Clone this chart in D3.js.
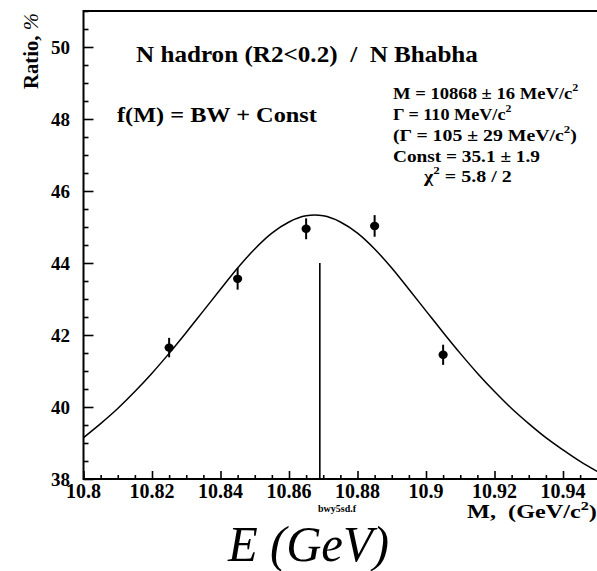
<!DOCTYPE html>
<html>
<head>
<meta charset="utf-8">
<script src="https://cdn.jsdelivr.net/npm/d3@7"></script>
</head>
<body style="margin:0">
<script>
// measured points: mass (GeV) and ratio (%)
var massValues = [10.825, 10.845, 10.865, 10.885, 10.905];
var ratioValues = [41.65, 43.56, 44.95, 45.03, 41.45];
var ratioErrors = [0.27, 0.30, 0.29, 0.30, 0.28];

// fitted curve
var fitMass = [10.800, 10.805, 10.810, 10.815, 10.820, 10.825, 10.830, 10.835, 10.840, 10.845,
               10.850, 10.855, 10.860, 10.865, 10.8675, 10.870, 10.875, 10.880, 10.885, 10.890,
               10.895, 10.900, 10.905, 10.910, 10.915, 10.920, 10.925, 10.930, 10.935, 10.940,
               10.945, 10.950];
var fitRatio = [39.15, 39.54, 39.96, 40.43, 40.94, 41.49, 42.07, 42.67, 43.27, 43.86,
                44.39, 44.83, 45.14, 45.31, 45.33, 45.31, 45.14, 44.83, 44.39, 43.86,
                43.27, 42.67, 42.07, 41.49, 40.94, 40.43, 39.96, 39.54, 39.15, 38.81,
                38.49, 38.21];

// marker line for the fitted mass
var peakMass = [10.869];
var peakTop = [44];

var xTickLabels = ["10.8", "10.82", "10.84", "10.86", "10.88", "10.9", "10.92", "10.94"];
var yTickLabels = ["38", "40", "42", "44", "46", "48", "50"];

var FONT = "Liberation Serif";
var NB = "\u00a0";

var BwChart = (function () {
    var svg, x, y;
    var fits = [];
    var width = 597, height = 571;
    var left = 83.5, right = 597.25, top = 11, bottom = 479;

    return {
        init: init,
        fit: fit
    };

    function init() {
        svg = d3.select("body").append("svg")
            .attr("width", width)
            .attr("height", height)
            .style("display", "block");

        x = d3.scaleLinear().domain([10.8, 10.95]).range([left, right]);
        y = d3.scaleLinear().domain([38, 51]).range([bottom, top]);

        drawAxes();
        drawCurve();
        drawPoints();
        drawTexts();
    }

    //Stretch the texts to the reference widths, after the first paint
    function fit() {
        fits.forEach(function (f) {
            var w = f.t.node().getBBox().width;
            var k = w > 0 ? f.target / w : 1;
            f.t.attr("transform", f.base + " scale(" + k + ",1)");
        });
    }

    function newText(size, italic) {
        var t = svg.append("text")
            .attr("font-family", FONT)
            .attr("font-size", size)
            .attr("font-weight", italic ? "normal" : "bold");
        if (italic) t.attr("font-style", "italic");
        return t;
    }

    function drawAxes() {
        //Minor and major ticks, pointing into the plot
        var yMinor = d3.range(38, 51.01, 0.5);
        var yAxis = d3.axisRight(y)
            .tickValues(yMinor)
            .tickSize(0)
            .tickFormat("");
        var yg = svg.append("g")
            .attr("transform", "translate(" + left + ",0)")
            .call(yAxis);
        yg.select(".domain").remove();
        yg.selectAll(".tick text").remove();
        yg.selectAll(".tick line")
            .attr("x2", function (d) { return Math.abs(d % 2) < 1e-6 ? 10 : 5; })
            .attr("stroke", "#000")
            .attr("stroke-width", 1.6);

        var xMinor = d3.range(0, 31).map(function (i) { return 10.8 + i * 0.005; });
        var xAxis = d3.axisTop(x)
            .tickValues(xMinor)
            .tickSize(0)
            .tickFormat("");
        var xg = svg.append("g")
            .attr("transform", "translate(0," + bottom + ")")
            .call(xAxis);
        xg.select(".domain").remove();
        xg.selectAll(".tick text").remove();
        xg.selectAll(".tick line")
            .attr("y2", function (d, i) { return i % 4 === 0 ? -8 : -4; })
            .attr("stroke", "#000")
            .attr("stroke-width", 1.6);

        //Frame: left, top and bottom
        svg.append("path")
            .attr("d", "M" + width + "," + top + "H" + left + "V" + bottom + "H" + width)
            .attr("fill", "none")
            .attr("stroke", "#000")
            .attr("stroke-width", 2);

        //Tick labels
        yTickLabels.forEach(function (d) {
            newText(19)
                .attr("x", 70)
                .attr("y", y(+d) + 6.5)
                .attr("text-anchor", "end")
                .text(d);
        });

        xTickLabels.forEach(function (d) {
            newText(20)
                .attr("x", x(+d))
                .attr("y", 497.5)
                .attr("text-anchor", "middle")
                .text(d);
        });
    }

    function drawCurve() {
        var line = d3.line()
            .x(function (d, i) { return x(fitMass[i]); })
            .y(function (d) { return y(d); })
            .curve(d3.curveMonotoneX);

        svg.append("path")
            .datum(fitRatio)
            .attr("d", line)
            .attr("fill", "none")
            .attr("stroke", "#000")
            .attr("stroke-width", 1.5);

        svg.selectAll(".peak")
            .data(peakMass)
            .enter().append("line")
            .attr("class", "peak")
            .attr("x1", function (d) { return x(d); })
            .attr("x2", function (d) { return x(d); })
            .attr("y1", function (d, i) { return y(peakTop[i]); })
            .attr("y2", y(38))
            .attr("stroke", "#000")
            .attr("stroke-width", 1.6);
    }

    function drawPoints() {
        var pts = svg.selectAll(".pt")
            .data(ratioValues)
            .enter().append("g")
            .attr("class", "pt");

        pts.append("line")
            .attr("x1", function (d, i) { return x(massValues[i]); })
            .attr("x2", function (d, i) { return x(massValues[i]); })
            .attr("y1", function (d, i) { return y(d + ratioErrors[i]); })
            .attr("y2", function (d, i) { return y(d - ratioErrors[i]); })
            .attr("stroke", "#000")
            .attr("stroke-width", 2);

        pts.append("ellipse")
            .attr("cx", function (d, i) { return x(massValues[i]); })
            .attr("cy", function (d) { return y(d); })
            .attr("rx", 4.6)
            .attr("ry", 4.2)
            .attr("fill", "#000");
    }

    function drawTexts() {
        //Title and fit formula
        place(addText(24, ["N hadron (R2<0.2) " + NB + "/" + NB + " N Bhabha"]), 136, 62, 342);
        place(addText(21, ["f(M) = BW + Const"]), 117, 121.5, 200);

        //Fit results
        place(addText(17, ["M = 10868 \u00b1 16 MeV/c", ["2"]]), 393, 99, 186);
        place(addText(17, ["\u0393 = 110 MeV/c", ["2"]]), 393, 120, 119);
        place(addText(17, ["(\u0393 = 105 \u00b1 29 MeV/c", ["2"], ")"]), 393, 140.5, 184);
        place(addText(17, ["Const = 35.1 \u00b1 1.9"]), 393, 161.5, 147);
        place(addText(17, ["\u03c7", ["2"], " = 5.8 / 2"]), 424, 182, 89);

        //Axis titles
        place(addText(18, ["M, " + NB + "(GeV/c", ["2"], ")"]), 467, 518, 130);

        var yTitle = newText(21);
        yTitle.append("tspan").text("Ratio, ");
        yTitle.append("tspan")
            .attr("font-style", "italic")
            .attr("font-weight", "normal")
            .text("%");
        yTitle.attr("transform", "translate(38,89) rotate(-90)");
        fits.push({ t: yTitle, base: "translate(38,89) rotate(-90)", target: 76 });

        newText(10)
            .attr("x", 337)
            .attr("y", 512)
            .attr("text-anchor", "middle")
            .text("bwy5sd.f");

        place(newText(50, true).text("E (GeV)"), 228, 561, 162);
    }

    function place(t, px, py, target) {
        var base = "translate(" + px + "," + py + ")";
        t.attr("transform", base);
        fits.push({ t: t, base: base, target: target });
    }

    function addText(size, parts) {
        var t = newText(size);
        var shift = Math.round(size * 0.45);
        var raised = false;
        parts.forEach(function (p) {
            if (Array.isArray(p)) {
                t.append("tspan")
                    .attr("dy", -shift)
                    .attr("font-size", Math.round(size * 0.65))
                    .text(p[0]);
                raised = true;
            } else {
                t.append("tspan")
                    .attr("dy", raised ? shift : 0)
                    .text(p);
                raised = false;
            }
        });
        return t;
    }
}());

BwChart.init();
requestAnimationFrame(function () {
    setTimeout(BwChart.fit, 30);
});
</script>
</body>
</html>
